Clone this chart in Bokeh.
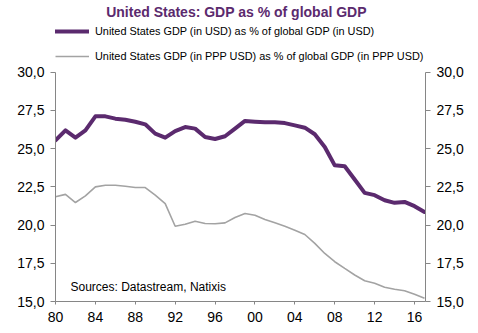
from bokeh.plotting import figure
from bokeh.models import (LinearAxis, FixedTicker, CustomJSTickFormatter, Range1d,
                          Legend, LegendItem, Label)
from bokeh.embed import file_html
from bokeh.resources import INLINE

years = list(range(1980, 2018))
usd_share = [25.53, 26.19, 25.71, 26.19, 27.10, 27.10, 26.95, 26.88, 26.75, 26.58,
             25.97, 25.71, 26.14, 26.40, 26.30, 25.75, 25.62, 25.80, 26.30, 26.80,
             26.75, 26.71, 26.71, 26.66, 26.51, 26.36, 25.93, 25.10, 23.90, 23.84,
             22.97, 22.10, 21.95, 21.62, 21.45, 21.51, 21.23, 20.85]
ppp_share = [21.84, 22.00, 21.47, 21.90, 22.49, 22.60, 22.60, 22.53, 22.45, 22.45,
             21.95, 21.40, 19.92, 20.05, 20.25, 20.10, 20.08, 20.14, 20.49, 20.75,
             20.64, 20.36, 20.14, 19.92, 19.66, 19.38, 18.80, 18.14, 17.60, 17.16,
             16.73, 16.36, 16.19, 15.93, 15.80, 15.70, 15.47, 15.21]
y_ticks = [15.0, 17.5, 20.0, 22.5, 25.0, 27.5, 30.0]
x_ticks = [1980, 1984, 1988, 1992, 1996, 2000, 2004, 2008, 2012, 2016]

title_text = "United States: GDP as % of global GDP"
label_usd = "United States GDP (in USD) as % of global GDP (in USD)"
label_ppp = "United States GDP (in PPP USD) as % of global GDP (in PPP USD)"
source_text = "Sources: Datastream, Natixis"

PURPLE = "#5b2a6e"
GRAY = "#a3a3a3"
AXIS = "#868686"
FONT = "Liberation Sans"

# frame spans the full height above the x axis; the value axes are bounded to 15..30
H, W = 333, 478
BOTTOM_BORDER = 32
frame_h = H - BOTTOM_BORDER          # 301 px
axis_top_px = 71.5                   # where 30,0 sits, from the top
y_lo, y_hi = y_ticks[0], y_ticks[-1]
y_top = y_lo + (y_hi - y_lo) * frame_h / (frame_h - axis_top_px)

p = figure(width=W, height=H, output_backend="svg", toolbar_location=None,
           x_range=Range1d(1980, 2017.1), y_range=Range1d(y_lo, y_top),
           x_axis_type=None, y_axis_type=None,
           min_border_left=55, min_border_right=53, min_border_top=0,
           min_border_bottom=BOTTOM_BORDER)
p.outline_line_color = None
p.xgrid.visible = False
p.ygrid.visible = False
p.background_fill_color = "white"
p.border_fill_color = "white"
p.title.visible = False

yfmt = CustomJSTickFormatter(code="return tick.toFixed(1).replace('.', ',');")
xfmt = CustomJSTickFormatter(code="return String(tick % 100).padStart(2, '0');")

def style_axis(ax, tick_out, standoff):
    ax.axis_line_color = AXIS
    ax.major_tick_line_color = AXIS
    ax.major_tick_out = tick_out
    ax.major_tick_in = 0
    ax.minor_tick_line_color = None
    ax.major_label_text_font = FONT
    ax.major_label_text_font_size = "14px"
    ax.major_label_text_color = "black"
    ax.major_label_standoff = standoff

left = LinearAxis(ticker=FixedTicker(ticks=y_ticks), formatter=yfmt, bounds=(y_lo, y_hi))
style_axis(left, 5, 6)
p.add_layout(left, "left")
right = LinearAxis(ticker=FixedTicker(ticks=y_ticks), formatter=yfmt, bounds=(y_lo, y_hi))
style_axis(right, 5, 6)
p.add_layout(right, "right")
bottom = LinearAxis(ticker=FixedTicker(ticks=x_ticks), formatter=xfmt)
style_axis(bottom, 3, 7)
p.add_layout(bottom, "below")

r_ppp = p.line(years, ppp_share, line_color=GRAY, line_width=1.6)
r_usd = p.line(years, usd_share, line_color=PURPLE, line_width=4, line_cap="round",
               line_join="round")

legend = Legend(items=[LegendItem(label=label_usd, renderers=[r_usd]),
                       LegendItem(label=label_ppp, renderers=[r_ppp])],
                location=(0, 238), orientation="vertical",
                border_line_color=None, background_fill_alpha=0,
                padding=0, margin=0, spacing=11,
                glyph_width=34, glyph_height=14, label_height=14,
                label_standoff=6, label_text_font=FONT, label_text_font_size="10.9px",
                label_text_color="black")
p.add_layout(legend, "center")

title = Label(x=181, y=290, x_units="screen", y_units="screen", text=title_text,
              text_font=FONT, text_font_size="14px", text_font_style="bold",
              text_color=PURPLE, text_align="center", text_baseline="middle")
p.add_layout(title)

src = Label(x=15, y=15, x_units="screen", y_units="screen", text=source_text,
            text_font=FONT, text_font_size="12px", text_baseline="middle",
            text_color="black")
p.add_layout(src)

open("out.html", "w").write(file_html(p, INLINE))
